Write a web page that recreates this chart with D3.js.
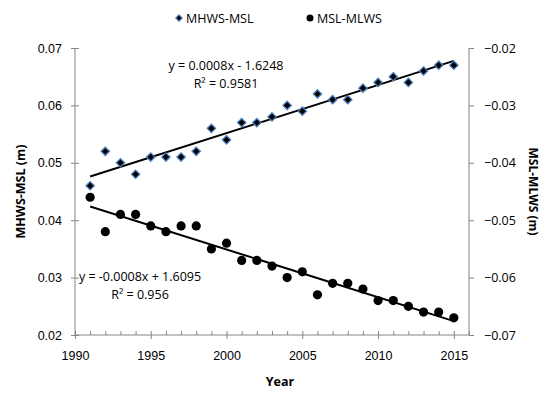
<!DOCTYPE html>
<html>
<head>
<meta charset="utf-8">
<script src="https://cdn.jsdelivr.net/npm/d3@7"></script>
<style>
  body { margin: 0; background: #fff; }
  svg { font-family: "Open Sans", "Liberation Sans", sans-serif; }
</style>
</head>
<body>
<div id="chart"></div>
<script>
// data
var years = [1991, 1992, 1993, 1994, 1995, 1996, 1997, 1998, 1999, 2000, 2001, 2002, 2003,
             2004, 2005, 2006, 2007, 2008, 2009, 2010, 2011, 2012, 2013, 2014, 2015];
var mhwsMsl = [0.046, 0.052, 0.050, 0.048, 0.051, 0.051, 0.051, 0.052, 0.056, 0.054, 0.057, 0.057, 0.058,
               0.060, 0.059, 0.062, 0.061, 0.061, 0.063, 0.064, 0.065, 0.064, 0.066, 0.067, 0.067];
var mslMlws = [-0.046, -0.052, -0.049, -0.049, -0.051, -0.052, -0.051, -0.051, -0.055, -0.054, -0.057, -0.057, -0.058,
               -0.060, -0.059, -0.063, -0.061, -0.061, -0.062, -0.064, -0.064, -0.065, -0.066, -0.066, -0.067];
var xTicks = [1990, 1995, 2000, 2005, 2010, 2015];
var leftTicks = [0.02, 0.03, 0.04, 0.05, 0.06, 0.07];
var rightTicks = [-0.07, -0.06, -0.05, -0.04, -0.03, -0.02];
var seriesNames = ["MHWS-MSL", "MSL-MLWS"];
var eqLeft = ["y = 0.0008x - 1.6248", "R\u00b2 = 0.9581"];
var eqRight = ["y = -0.0008x + 1.6095", "R\u00b2 = 0.956"];

var width = 543, height = 393;
var margin = {top: 48, right: 74, bottom: 58, left: 75};

var svg = d3.select("#chart").append("svg")
    .attr("width", width)
    .attr("height", height);

var x = d3.scaleLinear().domain([1990, 2016]).range([margin.left, width - margin.right]);
var yL = d3.scaleLinear().domain([0.02, 0.07]).range([height - margin.bottom, margin.top]);
var yR = d3.scaleLinear().domain([-0.07, -0.02]).range([height - margin.bottom, margin.top]);

var axisColor = "#868686";

// least squares fit for the trend lines
function fit(xs, ys) {
    var n = xs.length;
    var mx = d3.mean(xs), my = d3.mean(ys);
    var sxy = 0, sxx = 0;
    for (var i = 0; i < n; i++) {
        sxy += (xs[i] - mx) * (ys[i] - my);
        sxx += (xs[i] - mx) * (xs[i] - mx);
    }
    var b = sxy / sxx;
    return function (v) { return my + b * (v - mx); };
}

// x axis with minor ticks
var xAxisG = svg.append("g")
    .attr("transform", "translate(0," + (height - margin.bottom) + ")");
xAxisG.call(d3.axisBottom(x).tickValues(d3.range(1990, 2017)).tickSize(0).tickFormat(""));
xAxisG.selectAll(".tick line").remove();
xAxisG.selectAll(".tick").append("line")
    .attr("y1", function (d) { return xTicks.indexOf(d) >= 0 ? 4 : 0; })
    .attr("y2", -4)
    .attr("stroke", axisColor);
xAxisG.select(".domain").attr("stroke", axisColor).attr("d", "M" + x(1990) + ",0H" + x(2016));
xAxisG.selectAll(".tick text")
    .text(function (d) { return xTicks.indexOf(d) >= 0 ? d : ""; })
    .attr("y", 16)
    .attr("font-size", 12.5)
    .attr("fill", "#000");

// left axis
var yLG = svg.append("g").attr("transform", "translate(" + margin.left + ",0)");
yLG.call(d3.axisLeft(yL).tickValues(leftTicks).tickSize(4).tickFormat(d3.format(".2f")));
yLG.select(".domain").attr("stroke", axisColor).attr("d", "M0," + yL(0.02) + "V" + yL(0.07));
yLG.selectAll(".tick line").attr("x1", 4).attr("x2", -4).attr("stroke", axisColor);
yLG.selectAll(".tick text").attr("x", -13).attr("font-size", 12.5).attr("fill", "#000");

// right axis
var yRG = svg.append("g").attr("transform", "translate(" + (width - margin.right) + ",0)");
yRG.call(d3.axisRight(yR).tickValues(rightTicks).tickSize(5).tickFormat(d3.format(".2f")));
yRG.select(".domain").attr("stroke", axisColor).attr("d", "M0," + yR(-0.07) + "V" + yR(-0.02));
yRG.selectAll(".tick line").attr("stroke", axisColor);
yRG.selectAll(".tick text").attr("x", 15).attr("font-size", 12.5).attr("fill", "#000");
yRG.selectAll("text").attr("font-family", "Open Sans, sans-serif");

// trend lines
var fL = fit(years, mhwsMsl), fR = fit(years, mslMlws);
var x0 = years[0], x1 = years[years.length - 1];
svg.append("line")
    .attr("x1", x(x0)).attr("y1", yL(fL(x0)))
    .attr("x2", x(x1)).attr("y2", yL(fL(x1)))
    .attr("stroke", "#000").attr("stroke-width", 2);
svg.append("line")
    .attr("x1", x(x0)).attr("y1", yR(fR(x0)))
    .attr("x2", x(x1)).attr("y2", yR(fR(x1)))
    .attr("stroke", "#000").attr("stroke-width", 2);

// points
var diamond = d3.symbol().type(d3.symbolDiamond2).size(44);
svg.append("g").selectAll("path")
    .data(years)
    .enter().append("path")
    .attr("d", diamond)
    .attr("transform", function (d, i) { return "translate(" + x(d) + "," + yL(mhwsMsl[i]) + ")"; })
    .attr("fill", "#000")
    .attr("stroke", "#4a7ebb")
    .attr("stroke-width", 1.3);

svg.append("g").selectAll("circle")
    .data(years)
    .enter().append("circle")
    .attr("cx", function (d) { return x(d); })
    .attr("cy", function (d, i) { return yR(mslMlws[i]); })
    .attr("r", 4.6)
    .attr("fill", "#000");

// equations
svg.append("g").selectAll("text")
    .data(eqLeft)
    .enter().append("text")
    .attr("x", 226)
    .attr("y", function (d, i) { return 70 + i * 18; })
    .attr("text-anchor", "middle")
    .attr("font-size", 12.5)
    .text(function (d) { return d; });
svg.append("g").selectAll("text")
    .data(eqRight)
    .enter().append("text")
    .attr("x", 140)
    .attr("y", function (d, i) { return 281 + i * 18; })
    .attr("text-anchor", "middle")
    .attr("font-size", 12.5)
    .text(function (d) { return d; });

// axis titles
svg.append("text")
    .attr("x", (x(1990) + x(2016)) / 2 + 8)
    .attr("y", 386)
    .attr("text-anchor", "middle")
    .attr("font-size", 12.5)
    .attr("font-weight", "bold")
    .text("Year");
svg.append("text")
    .attr("transform", "translate(25," + ((yL(0.02) + yL(0.07)) / 2) + ") rotate(-90)")
    .attr("text-anchor", "middle")
    .attr("font-size", 12.5)
    .attr("font-weight", "bold")
    .text("MHWS-MSL (m)");
svg.append("text")
    .attr("transform", "translate(529," + ((yL(0.02) + yL(0.07)) / 2) + ") rotate(90)")
    .attr("text-anchor", "middle")
    .attr("font-size", 12)
    .attr("font-weight", "bold")
    .text("MSL-MLWS (m)");

// legend
var legend = svg.append("g").attr("transform", "translate(0,18)");
legend.append("path")
    .attr("d", d3.symbol().type(d3.symbolDiamond2).size(26))
    .attr("transform", "translate(179,0)")
    .attr("fill", "#000").attr("stroke", "#4a7ebb").attr("stroke-width", 1.2);
legend.append("circle").attr("cx", 310).attr("cy", 0).attr("r", 3.5).attr("fill", "#000");
legend.selectAll("text")
    .data(seriesNames)
    .enter().append("text")
    .attr("x", function (d, i) { return i === 0 ? 186 : 317; })
    .attr("y", 4.5)
    .attr("font-size", 12.5)
    .text(function (d) { return d; });
</script>
</body>
</html>
